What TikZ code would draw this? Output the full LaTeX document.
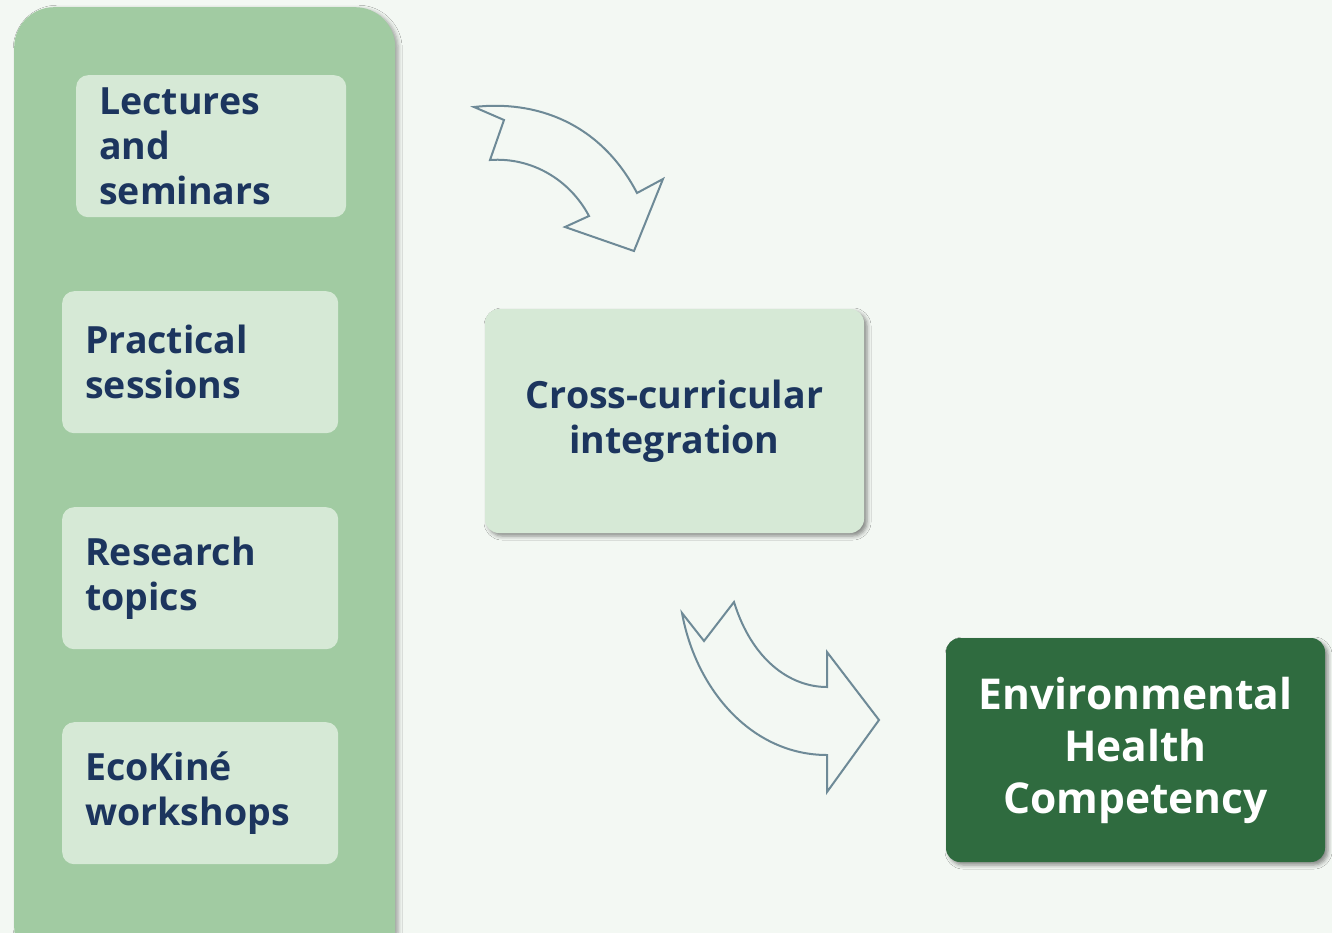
\documentclass[tikz,border=0pt]{standalone}
\usepackage{fontspec}
\setmainfont{Open Sans}
\usetikzlibrary{shadows.blur}

\definecolor{bgpale}{HTML}{F3F8F3}
\definecolor{panelgreen}{HTML}{A1CBA2}
\definecolor{boxgreen}{HTML}{D6E9D6}
\definecolor{darkgreen}{HTML}{2F6B3F}
\definecolor{navytext}{HTML}{1C355E}
\definecolor{arrowgray}{HTML}{6E8A97}

\tikzset{
  panel/.style={fill=panelgreen,rounded corners=40pt,anchor=north west,
    minimum width=381pt,minimum height=960pt,
    blur shadow={shadow xshift=3pt,shadow yshift=-2pt,shadow blur radius=4pt,shadow opacity=35}},
  listbox/.style={fill=boxgreen,rounded corners=12pt,anchor=north west,
    inner xsep=23pt,text width=230pt,minimum height=142pt,align=left,
    font=\fontsize{37.5}{45}\selectfont\bfseries,text=navytext},
  midbox/.style={fill=boxgreen,rounded corners=14pt,
    minimum width=379pt,minimum height=224pt,align=center,
    font=\fontsize{37.5}{45}\selectfont\bfseries,text=navytext,
    blur shadow={shadow xshift=3pt,shadow yshift=-3pt,shadow blur radius=4pt,shadow opacity=45}},
  goalbox/.style={fill=darkgreen,rounded corners=14pt,
    minimum width=379pt,minimum height=224pt,align=center,
    font=\fontsize{42.5}{52}\selectfont\bfseries,text=white,
    blur shadow={shadow xshift=3pt,shadow yshift=-3pt,shadow blur radius=4pt,shadow opacity=45}},
  bentarrow/.style={draw=arrowgray,line width=2pt,line join=miter,fill=bgpale}
}

\begin{document}
\begin{tikzpicture}[x=1pt,y=-1pt]
\useasboundingbox (0,0) rectangle (1332,933);
\clip (0,0) rectangle (1332,933);
\fill[bgpale] (0,0) rectangle (1332,933);

\node[panel](panel) at (14,7) {};
\node[listbox,text width=224pt](lect) at (76,75) {Lectures\\and\\seminars};
\node[listbox](prac) at (62,291) {Practical\\sessions};
\node[listbox](res) at (62,507) {Research\\topics};
\node[listbox](eco) at (62,722) {EcoKiné\\workshops};

\node[midbox](cross) at (674.5,421) {Cross-curricular\\integration};
\node[goalbox](ehc) at (1135.5,750) {Environmental\\Health\\Competency};

% bent arrows
\draw[bentarrow] (474,107) -- (504,120) -- (490,160)
  .. controls (532,157) and (570,180) .. (589,216)
  -- (565,227) -- (634,251) -- (663,179) -- (637,193)
  .. controls (600,122) and (535,100) .. cycle;
\draw[bentarrow] (682,613) -- (704,641) -- (734,602)
  .. controls (752,660) and (790,687) .. (827,687)
  -- (827,652) -- (879,720) -- (827,792) -- (827,755)
  .. controls (752,755) and (696,690) .. cycle;
\end{tikzpicture}
\end{document}
